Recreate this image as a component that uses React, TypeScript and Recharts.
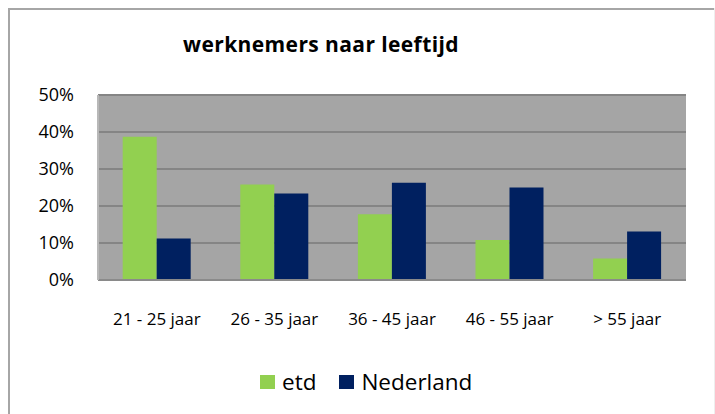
import React from "react";
import { BarChart, Bar, XAxis, YAxis, CartesianGrid } from "recharts";

const categories = ["21 - 25 jaar", "26 - 35 jaar", "36 - 45 jaar", "46 - 55 jaar", "> 55 jaar"];
const etd = [38.7, 25.8, 17.8, 10.8, 5.8];
const nederland = [11.2, 23.4, 26.3, 25.0, 13.1];
const yTicks = [0, 10, 20, 30, 40, 50];
const seriesNames = ["etd", "Nederland"];
const seriesColors = ["#92D050", "#002060"];
const title = "werknemers naar leeftijd";

const data = categories.map((c, i) => ({ name: c, etd: etd[i], Nederland: nederland[i] }));

const FONT = "'Open Sans', sans-serif";

export default function App() {
  return (
    <div style={{ position: "fixed", left: 0, top: 0, width: 715, height: 414, overflow: "hidden", background: "#fff" }}>
      <div style={{ position: "absolute", left: 8, top: 8, width: 2, height: 420, background: "#a6a6a6" }} />
      <div style={{ position: "absolute", left: 8, top: 8, width: 707, height: 2, background: "#a6a6a6" }} />
      <div style={{ position: "absolute", left: 714, top: 8, width: 1, height: 420, background: "#eeeeee" }} />
      <div
        style={{
          position: "absolute",
          left: 121,
          width: 400,
          top: 29,
          textAlign: "center",
          fontFamily: FONT,
          fontWeight: 700,
          fontSize: 21,
          letterSpacing: 0.4,
          lineHeight: "30px",
          color: "#000",
        }}
      >
        {title}
      </div>
      <div style={{ position: "absolute", left: 0, top: 0 }}>
        <BarChart
          width={715}
          height={414}
          data={data}
          margin={{ top: 95, right: 29, left: 38, bottom: 84 }}
          barCategoryGap="21%"
          barGap={0}
        >
          <CartesianGrid
            vertical={false}
            fill="#a5a5a5"
            fillOpacity={1}
            stroke="#858585"
            strokeWidth={2}
          />
          <XAxis
            dataKey="name"
            tickLine={false}
            axisLine={{ stroke: "#8a8a8a", strokeWidth: 2 }}
            tick={{ fill: "#000", fontSize: 17, fontFamily: FONT }}
            tickMargin={27}
            height={50}
            interval={0}
          />
          <YAxis
            width={60}
            domain={[0, 50]}
            ticks={yTicks}
            tickFormatter={(v: number) => `${v}%`}
            tickLine={false}
            axisLine={{ stroke: "#b8b8b8", strokeWidth: 2 }}
            tick={{ fill: "#000", fontSize: 18, fontFamily: FONT }}
            tickMargin={18}
          />
          <Bar dataKey="etd" fill={seriesColors[0]} isAnimationActive={false} />
          <Bar dataKey="Nederland" fill={seriesColors[1]} isAnimationActive={false} />
        </BarChart>
      </div>
      <div
        style={{
          position: "absolute",
          left: 260,
          top: 367,
          display: "flex",
          alignItems: "center",
          fontFamily: FONT,
          fontSize: 22.5,
          color: "#000",
        }}
      >
        {seriesNames.map((n, i) => (
          <div key={n} style={{ display: "flex", alignItems: "center", marginRight: i === 0 ? 23 : 0 }}>
            <div style={{ width: 15, height: 14, background: seriesColors[i], marginRight: 7 }} />
            <span style={{ lineHeight: "30px" }}>{n}</span>
          </div>
        ))}
      </div>
    </div>
  );
}
